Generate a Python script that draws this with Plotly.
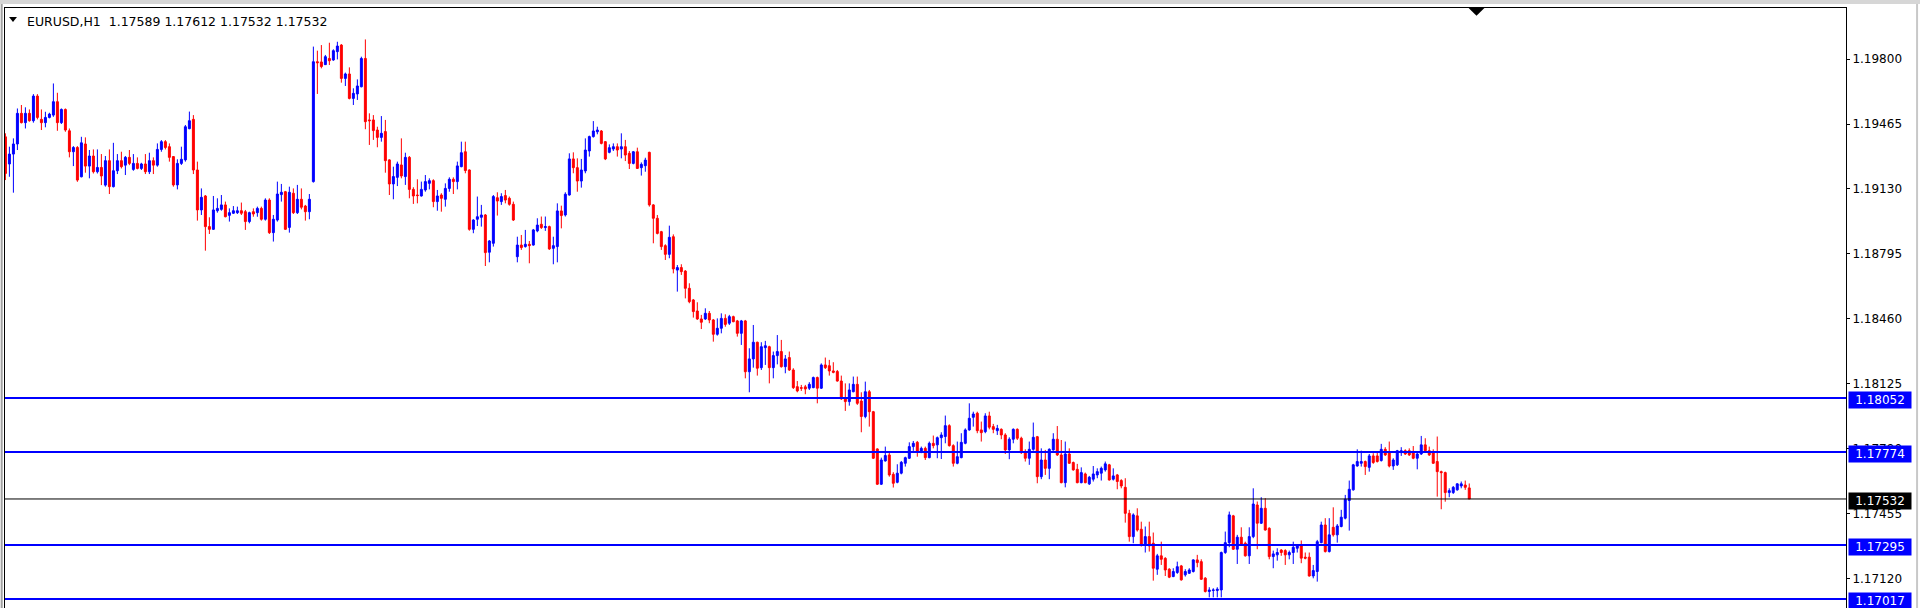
import plotly.graph_objects as go

# EURUSD H1 candles (oldest first)
opens = [
    1.19399, 1.19259, 1.19310, 1.19362, 1.19520, 1.19472, 1.19520, 1.19482, 1.19609, 1.19489,
    1.19472, 1.19499, 1.19511, 1.19580, 1.19472, 1.19540, 1.19430, 1.19322, 1.19344, 1.19193,
    1.19362, 1.19248, 1.19300, 1.19219, 1.19241, 1.19150, 1.19276, 1.19142, 1.19224, 1.19276,
    1.19253, 1.19293, 1.19231, 1.19262, 1.19236, 1.19259, 1.19219, 1.19276, 1.19253, 1.19334,
    1.19374, 1.19348, 1.19297, 1.19151, 1.19262, 1.19280, 1.19441, 1.19489, 1.19228, 1.19022,
    1.19094, 1.18936, 1.18922, 1.19018, 1.19025, 1.19048, 1.18994, 1.19005, 1.19008, 1.19018,
    1.19013, 1.18962, 1.19013, 1.19008, 1.19030, 1.18974, 1.19073, 1.18905, 1.18970, 1.19101,
    1.19116, 1.18932, 1.19108, 1.19008, 1.19077, 1.19042, 1.19013, 1.19168, 1.19786, 1.19785,
    1.19771, 1.19803, 1.19795, 1.19838, 1.19872, 1.19700, 1.19723, 1.19597, 1.19620, 1.19657,
    1.19803, 1.19486, 1.19486, 1.19434, 1.19396, 1.19426, 1.19280, 1.19156, 1.19190, 1.19254,
    1.19194, 1.19293, 1.19128, 1.19099, 1.19094, 1.19125, 1.19159, 1.19173, 1.19065, 1.19099,
    1.19077, 1.19133, 1.19180, 1.19168, 1.19245, 1.19322, 1.19228, 1.18922, 1.18974, 1.18984,
    1.18996, 1.18804, 1.18850, 1.19085, 1.19065, 1.19096, 1.19082, 1.19051, 1.18781, 1.18841,
    1.18833, 1.18845, 1.18841, 1.18914, 1.18948, 1.18931, 1.18936, 1.18824, 1.18833, 1.19017,
    1.18996, 1.19099, 1.19285, 1.19240, 1.19171, 1.19223, 1.19326, 1.19400, 1.19425, 1.19429,
    1.19374, 1.19319, 1.19336, 1.19348, 1.19336, 1.19348, 1.19314, 1.19262, 1.19322, 1.19240,
    1.19250, 1.19319, 1.19048, 1.18979, 1.18910, 1.18838, 1.18793, 1.18884, 1.18712, 1.18725,
    1.18707, 1.18618, 1.18558, 1.18501, 1.18460, 1.18460, 1.18489, 1.18455, 1.18381, 1.18412,
    1.18463, 1.18438, 1.18472, 1.18450, 1.18386, 1.18450, 1.18188, 1.18254, 1.18340, 1.18209,
    1.18312, 1.18317, 1.18209, 1.18271, 1.18292, 1.18214, 1.18261, 1.18197, 1.18111, 1.18106,
    1.18110, 1.18103, 1.18106, 1.18158, 1.18103, 1.18223, 1.18219, 1.18192, 1.18189, 1.18140,
    1.18048, 1.18034, 1.18085, 1.18123, 1.18037, 1.17957, 1.18085, 1.17982, 1.17790, 1.17608,
    1.17728, 1.17759, 1.17659, 1.17618, 1.17665, 1.17716, 1.17742, 1.17802, 1.17824, 1.17776,
    1.17793, 1.17745, 1.17819, 1.17811, 1.17848, 1.17854, 1.17910, 1.17807, 1.17716, 1.17745,
    1.17819, 1.17888, 1.17953, 1.17974, 1.17888, 1.17879, 1.17960, 1.17905, 1.17884, 1.17891,
    1.17862, 1.17785, 1.17840, 1.17891, 1.17845, 1.17776, 1.17742, 1.17788, 1.17853, 1.17647,
    1.17733, 1.17690, 1.17785, 1.17840, 1.17759, 1.17616, 1.17764, 1.17720, 1.17685, 1.17616,
    1.17661, 1.17610, 1.17634, 1.17656, 1.17665, 1.17682, 1.17708, 1.17634, 1.17656, 1.17627,
    1.17592, 1.17458, 1.17338, 1.17445, 1.17376, 1.17295, 1.17338, 1.17304, 1.17170, 1.17239,
    1.17226, 1.17170, 1.17132, 1.17153, 1.17187, 1.17141, 1.17149, 1.17158, 1.17218, 1.17209,
    1.17124, 1.17055, 1.17060, 1.17060, 1.17063, 1.17256, 1.17307, 1.17445, 1.17273, 1.17335,
    1.17304, 1.17239, 1.17338, 1.17501, 1.17407, 1.17484, 1.17381, 1.17235, 1.17244, 1.17269,
    1.17266, 1.17244, 1.17256, 1.17278, 1.17290, 1.17232, 1.17232, 1.17135, 1.17158, 1.17307,
    1.17398, 1.17261, 1.17386, 1.17347, 1.17390, 1.17433, 1.17524, 1.17579, 1.17702, 1.17716,
    1.17725, 1.17695, 1.17754, 1.17754, 1.17730, 1.17788, 1.17776, 1.17702, 1.17708, 1.17771,
    1.17781, 1.17781, 1.17771, 1.17742, 1.17764, 1.17811, 1.17781, 1.17771, 1.17725, 1.17673,
    1.17668, 1.17565, 1.17565, 1.17579, 1.17599, 1.17604, 1.17589,
]
highs = [
    1.19417, 1.19348, 1.19391, 1.19545, 1.19563, 1.19551, 1.19540, 1.19619, 1.19619, 1.19540,
    1.19528, 1.19523, 1.19674, 1.19626, 1.19545, 1.19545, 1.19442, 1.19351, 1.19351, 1.19399,
    1.19396, 1.19331, 1.19334, 1.19334, 1.19310, 1.19300, 1.19334, 1.19368, 1.19310, 1.19322,
    1.19300, 1.19331, 1.19310, 1.19293, 1.19265, 1.19310, 1.19317, 1.19293, 1.19365, 1.19382,
    1.19382, 1.19365, 1.19300, 1.19283, 1.19348, 1.19460, 1.19529, 1.19511, 1.19271, 1.19133,
    1.19099, 1.18984, 1.19094, 1.19082, 1.19099, 1.19065, 1.19030, 1.19042, 1.19039, 1.19060,
    1.19022, 1.19013, 1.19030, 1.19039, 1.19039, 1.19082, 1.19082, 1.18996, 1.19168, 1.19156,
    1.19120, 1.19142, 1.19133, 1.19151, 1.19133, 1.19048, 1.19104, 1.19864, 1.19843, 1.19872,
    1.19821, 1.19884, 1.19850, 1.19889, 1.19877, 1.19730, 1.19757, 1.19649, 1.19695, 1.19812,
    1.19901, 1.19520, 1.19511, 1.19451, 1.19506, 1.19486, 1.19283, 1.19245, 1.19271, 1.19391,
    1.19317, 1.19300, 1.19139, 1.19180, 1.19168, 1.19202, 1.19185, 1.19180, 1.19125, 1.19108,
    1.19159, 1.19190, 1.19190, 1.19271, 1.19374, 1.19374, 1.19231, 1.18974, 1.19091, 1.19048,
    1.19001, 1.18867, 1.19099, 1.19113, 1.19108, 1.19125, 1.19091, 1.19065, 1.18884, 1.18893,
    1.18919, 1.18862, 1.18924, 1.18979, 1.18988, 1.18988, 1.18941, 1.18884, 1.19056, 1.19044,
    1.19113, 1.19314, 1.19319, 1.19288, 1.19285, 1.19391, 1.19405, 1.19480, 1.19451, 1.19434,
    1.19377, 1.19360, 1.19365, 1.19365, 1.19417, 1.19383, 1.19326, 1.19326, 1.19343, 1.19267,
    1.19291, 1.19322, 1.19052, 1.18996, 1.18914, 1.18845, 1.18941, 1.18896, 1.18738, 1.18742,
    1.18712, 1.18644, 1.18563, 1.18546, 1.18481, 1.18515, 1.18501, 1.18460, 1.18463, 1.18489,
    1.18484, 1.18481, 1.18477, 1.18455, 1.18455, 1.18455, 1.18309, 1.18429, 1.18343, 1.18340,
    1.18347, 1.18322, 1.18292, 1.18377, 1.18352, 1.18274, 1.18292, 1.18206, 1.18140, 1.18120,
    1.18120, 1.18134, 1.18163, 1.18163, 1.18231, 1.18261, 1.18249, 1.18237, 1.18197, 1.18168,
    1.18128, 1.18128, 1.18163, 1.18163, 1.18082, 1.18137, 1.18094, 1.17986, 1.17793, 1.17745,
    1.17802, 1.17776, 1.17670, 1.17711, 1.17728, 1.17750, 1.17824, 1.17831, 1.17831, 1.17802,
    1.17802, 1.17828, 1.17859, 1.17854, 1.17876, 1.17962, 1.17917, 1.17814, 1.17828, 1.17871,
    1.17896, 1.18025, 1.17982, 1.17982, 1.17931, 1.17974, 1.17982, 1.17919, 1.17914, 1.17896,
    1.17871, 1.17850, 1.17896, 1.17896, 1.17853, 1.17788, 1.17828, 1.17926, 1.17857, 1.17793,
    1.17785, 1.17793, 1.17871, 1.17908, 1.17836, 1.17828, 1.17793, 1.17725, 1.17713, 1.17695,
    1.17668, 1.17651, 1.17702, 1.17690, 1.17699, 1.17725, 1.17713, 1.17690, 1.17661, 1.17634,
    1.17639, 1.17476, 1.17458, 1.17484, 1.17415, 1.17390, 1.17415, 1.17359, 1.17249, 1.17312,
    1.17232, 1.17175, 1.17175, 1.17209, 1.17192, 1.17170, 1.17175, 1.17221, 1.17244, 1.17221,
    1.17129, 1.17077, 1.17072, 1.17077, 1.17261, 1.17364, 1.17467, 1.17450, 1.17347, 1.17386,
    1.17312, 1.17386, 1.17587, 1.17519, 1.17541, 1.17536, 1.17386, 1.17266, 1.17278, 1.17273,
    1.17273, 1.17266, 1.17312, 1.17295, 1.17318, 1.17256, 1.17256, 1.17192, 1.17321, 1.17415,
    1.17433, 1.17433, 1.17489, 1.17403, 1.17476, 1.17553, 1.17627, 1.17713, 1.17788, 1.17781,
    1.17730, 1.17764, 1.17768, 1.17771, 1.17816, 1.17799, 1.17828, 1.17742, 1.17785, 1.17799,
    1.17788, 1.17793, 1.17805, 1.17771, 1.17857, 1.17845, 1.17802, 1.17788, 1.17854, 1.17678,
    1.17673, 1.17587, 1.17599, 1.17613, 1.17622, 1.17627, 1.17612,
]
lows = [
    1.19176, 1.19193, 1.19111, 1.19331, 1.19468, 1.19442, 1.19477, 1.19472, 1.19489, 1.19434,
    1.19448, 1.19494, 1.19502, 1.19430, 1.19465, 1.19425, 1.19293, 1.19248, 1.19167, 1.19190,
    1.19214, 1.19185, 1.19210, 1.19210, 1.19150, 1.19142, 1.19104, 1.19138, 1.19207, 1.19236,
    1.19202, 1.19253, 1.19224, 1.19231, 1.19228, 1.19207, 1.19207, 1.19207, 1.19245, 1.19322,
    1.19334, 1.19271, 1.19142, 1.19128, 1.19254, 1.19271, 1.19438, 1.19207, 1.18967, 1.18996,
    1.18812, 1.18898, 1.18919, 1.19008, 1.19018, 1.18984, 1.18962, 1.19001, 1.19001, 1.18996,
    1.18919, 1.18953, 1.18987, 1.18987, 1.18967, 1.18967, 1.18898, 1.18859, 1.18962, 1.19065,
    1.18919, 1.18905, 1.19001, 1.19001, 1.19025, 1.18967, 1.18974, 1.19163, 1.19620, 1.19752,
    1.19769, 1.19769, 1.19791, 1.19798, 1.19678, 1.19661, 1.19592, 1.19563, 1.19589, 1.19654,
    1.19438, 1.19357, 1.19383, 1.19345, 1.19374, 1.19214, 1.19099, 1.19077, 1.19145, 1.19185,
    1.19151, 1.19082, 1.19053, 1.19056, 1.19091, 1.19116, 1.19128, 1.19036, 1.19018, 1.19013,
    1.19039, 1.19116, 1.19104, 1.19128, 1.19242, 1.19211, 1.18915, 1.18902, 1.18939, 1.18936,
    1.18733, 1.18752, 1.18833, 1.18993, 1.19048, 1.19056, 1.19044, 1.18965, 1.18752, 1.18816,
    1.18828, 1.18747, 1.18838, 1.18907, 1.18924, 1.18914, 1.18816, 1.18742, 1.18752, 1.18927,
    1.18988, 1.19096, 1.19211, 1.19116, 1.19137, 1.19211, 1.19297, 1.19395, 1.19412, 1.19360,
    1.19279, 1.19314, 1.19326, 1.19297, 1.19288, 1.19274, 1.19233, 1.19257, 1.19233, 1.19199,
    1.19219, 1.19039, 1.18850, 1.18896, 1.18816, 1.18764, 1.18773, 1.18695, 1.18601, 1.18687,
    1.18566, 1.18541, 1.18467, 1.18455, 1.18408, 1.18455, 1.18438, 1.18343, 1.18374, 1.18386,
    1.18420, 1.18429, 1.18443, 1.18369, 1.18326, 1.18154, 1.18082, 1.18209, 1.18168, 1.18197,
    1.18223, 1.18128, 1.18154, 1.18226, 1.18209, 1.18180, 1.18192, 1.18099, 1.18082, 1.18089,
    1.18072, 1.18094, 1.18103, 1.18025, 1.18099, 1.18202, 1.18168, 1.18180, 1.18137, 1.18043,
    1.17986, 1.18013, 1.18082, 1.18017, 1.17876, 1.17948, 1.17905, 1.17738, 1.17604, 1.17604,
    1.17725, 1.17647, 1.17591, 1.17613, 1.17659, 1.17699, 1.17738, 1.17780, 1.17750, 1.17768,
    1.17733, 1.17742, 1.17793, 1.17742, 1.17738, 1.17819, 1.17802, 1.17699, 1.17711, 1.17742,
    1.17814, 1.17884, 1.17905, 1.17871, 1.17828, 1.17871, 1.17891, 1.17871, 1.17862, 1.17840,
    1.17764, 1.17737, 1.17819, 1.17836, 1.17764, 1.17725, 1.17708, 1.17781, 1.17613, 1.17634,
    1.17656, 1.17634, 1.17781, 1.17754, 1.17613, 1.17592, 1.17713, 1.17678, 1.17613, 1.17613,
    1.17613, 1.17604, 1.17622, 1.17639, 1.17627, 1.17673, 1.17627, 1.17627, 1.17582, 1.17587,
    1.17410, 1.17312, 1.17304, 1.17364, 1.17287, 1.17256, 1.17261, 1.17111, 1.17141, 1.17192,
    1.17135, 1.17124, 1.17129, 1.17146, 1.17111, 1.17132, 1.17146, 1.17153, 1.17180, 1.17115,
    1.17050, 1.17025, 1.17025, 1.17025, 1.17025, 1.17249, 1.17283, 1.17269, 1.17197, 1.17290,
    1.17235, 1.17197, 1.17330, 1.17273, 1.17403, 1.17369, 1.17221, 1.17175, 1.17214, 1.17239,
    1.17192, 1.17221, 1.17197, 1.17256, 1.17201, 1.17221, 1.17132, 1.17123, 1.17106, 1.17304,
    1.17256, 1.17256, 1.17338, 1.17307, 1.17386, 1.17427, 1.17369, 1.17575, 1.17699, 1.17699,
    1.17656, 1.17673, 1.17713, 1.17720, 1.17725, 1.17754, 1.17695, 1.17682, 1.17702, 1.17754,
    1.17759, 1.17754, 1.17737, 1.17685, 1.17759, 1.17771, 1.17754, 1.17713, 1.17544, 1.17479,
    1.17518, 1.17541, 1.17558, 1.17575, 1.17587, 1.17579, 1.17532,
]
closes = [
    1.19210, 1.19310, 1.19362, 1.19520, 1.19472, 1.19520, 1.19482, 1.19609, 1.19499, 1.19472,
    1.19499, 1.19516, 1.19580, 1.19472, 1.19540, 1.19434, 1.19322, 1.19344, 1.19176, 1.19368,
    1.19248, 1.19300, 1.19219, 1.19241, 1.19197, 1.19276, 1.19142, 1.19224, 1.19276, 1.19245,
    1.19293, 1.19262, 1.19262, 1.19236, 1.19259, 1.19219, 1.19276, 1.19253, 1.19334, 1.19374,
    1.19344, 1.19293, 1.19151, 1.19262, 1.19283, 1.19451, 1.19482, 1.19228, 1.19022, 1.19087,
    1.18936, 1.18922, 1.19022, 1.19030, 1.19048, 1.18987, 1.19008, 1.19018, 1.19018, 1.19005,
    1.18962, 1.19008, 1.19001, 1.19030, 1.18974, 1.19073, 1.18905, 1.18974, 1.19104, 1.19113,
    1.18922, 1.19113, 1.19008, 1.19077, 1.19036, 1.19013, 1.19077, 1.19786, 1.19781, 1.19761,
    1.19812, 1.19791, 1.19843, 1.19867, 1.19700, 1.19723, 1.19597, 1.19623, 1.19661, 1.19803,
    1.19477, 1.19482, 1.19431, 1.19396, 1.19417, 1.19276, 1.19156, 1.19194, 1.19259, 1.19197,
    1.19293, 1.19128, 1.19094, 1.19096, 1.19128, 1.19168, 1.19173, 1.19065, 1.19094, 1.19082,
    1.19133, 1.19180, 1.19168, 1.19249, 1.19317, 1.19225, 1.18922, 1.18970, 1.18987, 1.18996,
    1.18802, 1.18862, 1.19091, 1.19068, 1.19091, 1.19073, 1.19051, 1.18970, 1.18841, 1.18828,
    1.18845, 1.18838, 1.18919, 1.18944, 1.18931, 1.18936, 1.18821, 1.18838, 1.19017, 1.18993,
    1.19103, 1.19285, 1.19240, 1.19171, 1.19228, 1.19331, 1.19400, 1.19429, 1.19434, 1.19365,
    1.19285, 1.19343, 1.19348, 1.19331, 1.19348, 1.19305, 1.19262, 1.19322, 1.19236, 1.19257,
    1.19279, 1.19048, 1.18979, 1.18901, 1.18833, 1.18793, 1.18881, 1.18718, 1.18725, 1.18704,
    1.18618, 1.18549, 1.18498, 1.18460, 1.18443, 1.18489, 1.18455, 1.18381, 1.18412, 1.18463,
    1.18432, 1.18472, 1.18446, 1.18386, 1.18450, 1.18188, 1.18254, 1.18340, 1.18206, 1.18317,
    1.18322, 1.18209, 1.18271, 1.18292, 1.18214, 1.18254, 1.18197, 1.18106, 1.18089, 1.18103,
    1.18099, 1.18123, 1.18158, 1.18103, 1.18223, 1.18209, 1.18192, 1.18185, 1.18140, 1.18048,
    1.18034, 1.18094, 1.18123, 1.18025, 1.17957, 1.18085, 1.17982, 1.17742, 1.17608, 1.17733,
    1.17756, 1.17656, 1.17613, 1.17665, 1.17721, 1.17745, 1.17802, 1.17819, 1.17776, 1.17793,
    1.17745, 1.17819, 1.17807, 1.17848, 1.17862, 1.17910, 1.17807, 1.17716, 1.17750, 1.17824,
    1.17888, 1.17948, 1.17970, 1.17884, 1.17874, 1.17960, 1.17902, 1.17891, 1.17896, 1.17862,
    1.17785, 1.17840, 1.17891, 1.17845, 1.17771, 1.17742, 1.17788, 1.17850, 1.17647, 1.17733,
    1.17690, 1.17788, 1.17840, 1.17759, 1.17616, 1.17764, 1.17716, 1.17682, 1.17616, 1.17668,
    1.17616, 1.17644, 1.17661, 1.17673, 1.17690, 1.17713, 1.17630, 1.17651, 1.17622, 1.17599,
    1.17458, 1.17338, 1.17450, 1.17372, 1.17295, 1.17338, 1.17290, 1.17175, 1.17239, 1.17221,
    1.17166, 1.17129, 1.17158, 1.17183, 1.17115, 1.17158, 1.17166, 1.17218, 1.17204, 1.17118,
    1.17055, 1.17063, 1.17063, 1.17067, 1.17256, 1.17307, 1.17450, 1.17273, 1.17335, 1.17300,
    1.17239, 1.17338, 1.17506, 1.17407, 1.17484, 1.17372, 1.17235, 1.17249, 1.17256, 1.17256,
    1.17244, 1.17256, 1.17283, 1.17290, 1.17227, 1.17227, 1.17135, 1.17163, 1.17312, 1.17398,
    1.17261, 1.17347, 1.17347, 1.17393, 1.17438, 1.17531, 1.17582, 1.17708, 1.17725, 1.17725,
    1.17699, 1.17754, 1.17720, 1.17725, 1.17788, 1.17759, 1.17702, 1.17733, 1.17781, 1.17781,
    1.17764, 1.17759, 1.17742, 1.17764, 1.17811, 1.17781, 1.17759, 1.17716, 1.17673, 1.17668,
    1.17565, 1.17575, 1.17592, 1.17610, 1.17610, 1.17592, 1.17532,
]

# horizontal price levels drawn on the chart
level_prices = [1.18052, 1.17774, 1.17295, 1.17017]
bid_price = 1.17532

# right hand price scale
tick_prices = [1.19800, 1.19465, 1.19130, 1.18795, 1.18460, 1.18125, 1.17790, 1.17455, 1.17120]

header = "EURUSD,H1\u00a0 1.17589 1.17612 1.17532 1.17532"

FONT = "DejaVu Sans"
BULL = "#0000ff"
BEAR = "#ff0000"

bars = list(range(len(opens)))

fig = go.Figure()

fig.add_trace(go.Candlestick(
    x=bars,
    open=opens,
    high=highs,
    low=lows,
    close=closes,
    increasing=dict(line=dict(color=BULL, width=1), fillcolor=BULL),
    decreasing=dict(line=dict(color=BEAR, width=1), fillcolor=BEAR),
    whiskerwidth=0,
    hoverinfo="skip",
    showlegend=False,
))

shapes = []
annotations = []

# blue level lines with their price boxes on the scale
for p in level_prices:
    shapes.append(dict(type="line", xref="paper", yref="y", x0=0, x1=1, y0=p, y1=p,
                       line=dict(color="#0000ff", width=2)))
    annotations.append(dict(xref="paper", yref="y", x=1, y=p, xanchor="left", yanchor="middle",
                            xshift=2, yshift=-2, text="%.5f" % p, showarrow=False,
                            font=dict(family=FONT, size=12, color="white"),
                            bgcolor="#0000ff", borderpad=1, width=60, align="center"))

# bid line
shapes.append(dict(type="line", xref="paper", yref="y", x0=0, x1=1, y0=bid_price, y1=bid_price,
                   line=dict(color="black", width=1)))
annotations.append(dict(xref="paper", yref="y", x=1, y=bid_price, xanchor="left", yanchor="middle",
                        xshift=2, yshift=-2, text="%.5f" % bid_price, showarrow=False,
                        font=dict(family=FONT, size=12, color="white"),
                        bgcolor="black", borderpad=1, width=60, align="center"))

# header text + small triangle
annotations.append(dict(xref="paper", yref="paper", x=0, y=1, xanchor="left", yanchor="top",
                        xshift=20, yshift=-4, text=header, showarrow=False,
                        font=dict(family=FONT, size=12.5, color="black")))
shapes.append(dict(type="path", xref="paper", yref="paper",
                   path="M 0.0022 0.9850 L 0.0065 0.9850 L 0.00435 0.9767 Z",
                   fillcolor="black", line=dict(width=0)))

# chart shift marker on the top border
shapes.append(dict(type="path", xref="paper", yref="paper",
                   path="M 0.7950 1 L 0.8036 1 L 0.7993 0.9870 Z",
                   fillcolor="black", line=dict(width=0)))

# window chrome: grey strip on top, thin grey edges
shapes.append(dict(type="rect", xref="paper", yref="paper", x0=-0.01, x1=1.05, y0=1.0065, y1=1.02,
                   fillcolor="#d6d6d6", line=dict(width=0)))
shapes.append(dict(type="line", xref="paper", yref="paper", x0=-0.0018, x1=-0.0018, y0=0, y1=1.0065,
                   line=dict(color="#a0a0a0", width=2)))
shapes.append(dict(type="line", xref="paper", yref="paper", x0=1.0386, x1=1.0386, y0=0, y1=1.0065,
                   line=dict(color="#c8c8c8", width=2)))

fig.update_layout(
    width=1920,
    height=608,
    autosize=False,
    margin=dict(l=5, r=74, t=8, b=0),
    paper_bgcolor="white",
    plot_bgcolor="white",
    showlegend=False,
    shapes=shapes,
    annotations=annotations,
    font=dict(family=FONT, size=12, color="black"),
    xaxis=dict(
        range=[-0.1, 460.2],
        rangeslider=dict(visible=False),
        showgrid=False,
        zeroline=False,
        showticklabels=False,
        ticks="",
        showline=True,
        mirror=True,
        linecolor="black",
        linewidth=1,
    ),
    yaxis=dict(
        side="right",
        range=[1.16970, 1.20063],
        tickvals=tick_prices,
        tickformat=".5f",
        ticks="outside",
        ticklen=3,
        tickcolor="black",
        tickfont=dict(family=FONT, size=12, color="black"),
        showgrid=False,
        zeroline=False,
        showline=True,
        mirror=True,
        linecolor="black",
        linewidth=1,
    ),
)

fig.write_html("out.html", config={"displayModeBar": False},
               post_script="document.body.style.margin='0';")
